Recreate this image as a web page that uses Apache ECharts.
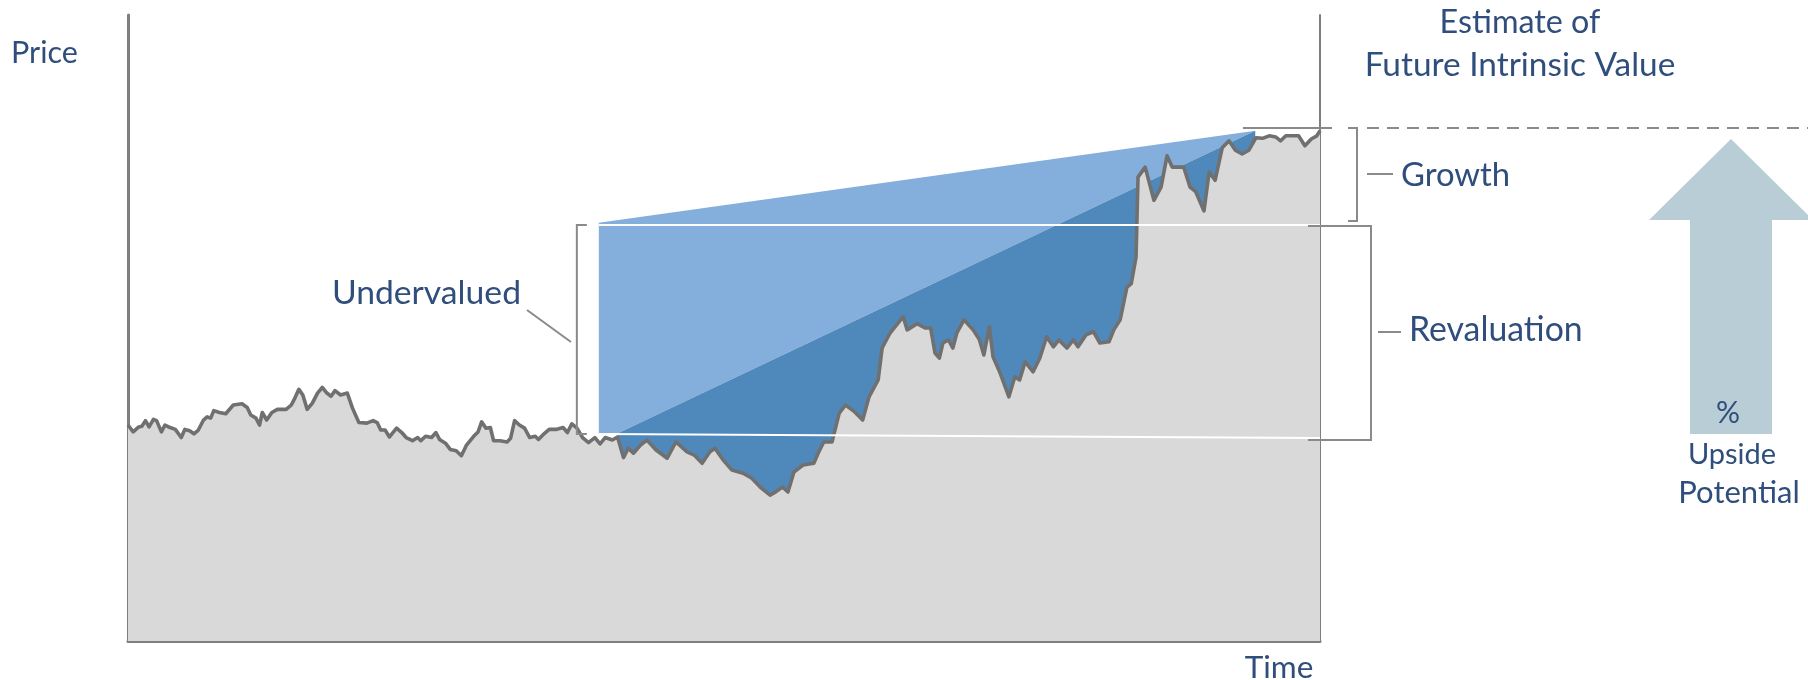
<!DOCTYPE html>
<html><head><meta charset="utf-8">
<script src="https://cdn.jsdelivr.net/npm/echarts@6/dist/echarts.min.js"></script>
<style>html,body{margin:0;padding:0;background:#fff}#c{width:1808px;height:680px}</style>
</head><body><div id="c"></div>
<script>
// Time index (0..300) and price (0..100 scale)
const priceTime = [0,1.3,2.7,3.5,4.4,5.3,6.4,7.2,8.4,9.3,10.6,11.9,13.4,14.3,15.5,16.6,17.7,19.0,19.9,20.8,21.6,23.0,24.6,26.5,28.7,30.0,30.9,32.2,33.1,33.8,34.9,36.2,37.6,39.8,41.1,42.0,43.0,44.0,45.1,46.4,47.7,48.9,49.9,51.1,52.1,53.5,55.2,56.5,58.1,60.1,61.7,62.7,63.6,64.7,65.8,67.6,68.9,70.0,71.6,72.9,73.7,74.9,76.4,77.5,78.4,79.9,81.1,82.6,83.9,85.2,87.0,88.1,89.0,90.1,91.2,92.0,93.6,95.4,96.3,97.3,98.5,99.8,101.1,102.5,103.3,104.7,106.0,107.7,109.5,110.6,111.7,113.0,114.4,115.9,117.5,118.8,120.1,121.9,123.2,124.7,125.9,127.2,129.0,
130.6,132.9,135.7,137.9,140.7,142.5,144.5,146.4,147.7,149.8,152.0,154.8,157.0,159.1,161.6,163.2,164.7,166.1,167.6,169.9,172.6,173.7,175.1,177.2,179.0,180.6,182.9,184.9,186.5,188.8,189.8,191.8,195.1,196.1,198.6,200.6,202.0,203.1,204.2,205.1,206.5,207.6,208.6,210.4,212.7,214.3,215.4,216.8,217.7,219.5,221.7,223.2,224.4,225.8,227.8,229.5,231.2,232.9,234.3,236.3,237.9,239.1,241.1,243.0,244.6,246.9,248.1,249.7,251.4,252.5,253.7,254.2,256.0,258.2,260.0,261.5,262.8,265.7,267.3,268.7,270.8,272.1,273.6,275.4,277.1,278.7,280.4,282.1,283.9,285.5,287.2,288.9,290.1,291.4,294.6,296.2,297.8,299.2,300];
const priceValue = [34.5,33.4,34.2,34.3,35.2,34.2,35.4,35.2,33.4,34.5,34.1,33.8,32.5,33.8,33.6,33.1,33.7,35.3,35.8,35.6,36.8,36.5,36.3,37.7,37.9,37.3,36.1,35.6,34.5,36.5,35.3,36.5,37.0,37.0,37.7,38.8,40.2,39.3,37.0,38.0,39.6,40.5,39.7,39.1,40.0,39.3,39.6,37.2,34.9,34.8,35.2,34.9,33.7,33.7,32.6,34.0,33.3,32.5,32.0,32.5,32.0,32.7,32.5,33.3,32.2,31.6,30.6,30.4,29.6,31.3,32.7,33.4,35.0,34.0,34.1,32.0,32.0,31.8,32.4,35.2,34.5,34.0,32.5,32.7,32.2,33.1,33.8,33.8,34.1,33.3,34.7,34.0,32.5,31.7,32.5,31.5,32.5,32.1,32.6,29.3,30.8,30.0,31.3,
32.1,30.5,29.2,31.8,30.2,29.7,28.4,30.2,30.8,28.9,27.3,26.8,26.0,24.6,23.3,23.9,24.6,23.8,27.0,28.1,28.4,30.0,31.8,31.8,36.4,37.7,36.6,35.3,39.0,41.7,46.8,49.2,51.8,49.7,50.7,50.0,50.0,46.0,45.2,47.6,48.1,46.8,49.2,51.3,49.7,48.1,45.7,50.2,45.4,42.8,39.0,42.2,41.7,44.6,43.0,45.2,48.6,47.0,48.1,46.8,48.1,47.0,48.9,49.4,47.6,47.8,49.7,51.3,56.5,57.1,61.3,74.1,75.7,70.4,72.5,77.5,75.7,75.7,72.5,71.8,68.7,74.9,73.6,78.8,79.9,78.4,77.8,78.4,80.4,80.3,80.7,80.5,79.9,80.7,80.7,79.1,80.2,80.7,81.5];
// Intrinsic value lines
const wedgeTop = [[118.5, 66.8], [283.7, 81.5]];
const diagonal = [[123.3, 33.2], [283.7, 81.5]];
const fairHigh = [[118.5, 66.45], [300, 66.45]];
const fairLow = [[118.5, 33.07], [300, 32.43]];
const estimateValue = 81.95;
const estimateStart = 280.6;
const labels = {
  price: 'Price', time: 'Time', est1: 'Estimate of', est2: 'Future Intrinsic Value',
  growth: 'Growth', reval: 'Revaluation', under: 'Undervalued',
  pct: '%', up: 'Upside', pot: 'Potential'
};

const chart = echarts.init(document.getElementById('c'), null, {renderer: 'canvas'});
const priceData = priceTime.map((t, i) => [t, priceValue[i]]);
const AX = '#7f7f7f';
chart.setOption({
  animation: false,
  grid: {left: 128, right: 488, top: 15, bottom: 39},
  xAxis: {type: 'value', min: 0, max: 300, axisLine: {show: true, onZero: false, lineStyle: {color: AX, width: 3}},
    axisTick: {show: false}, axisLabel: {show: false}, splitLine: {show: false}},
  yAxis: [
    {type: 'value', min: 0, max: 100, position: 'left', axisLine: {show: true, lineStyle: {color: AX, width: 3}},
      axisTick: {show: false}, axisLabel: {show: false}, splitLine: {show: false}},
    {type: 'value', min: 0, max: 100, position: 'right', axisLine: {show: true, lineStyle: {color: AX, width: 2}},
      axisTick: {show: false}, axisLabel: {show: false}, splitLine: {show: false}}
  ],
  series: [
    {type: 'custom', z: 1, data: [[0, 0]], clip: false, silent: true,
      renderItem: function (params, api) {
        const pts = [wedgeTop[0], wedgeTop[1], diagonal[0], fairLow[0]].map(p => api.coord(p));
        return {type: 'polygon', shape: {points: pts}, style: {fill: '#84aedb'}};
      }},
    {type: 'line', z: 2, data: diagonal, symbol: 'none', lineStyle: {width: 0},
      areaStyle: {color: '#4f89bb', opacity: 1, origin: 'start'}},
    {type: 'line', z: 3, data: priceData, symbol: 'none', lineStyle: {color: '#707070', width: 3.6, join: 'round'},
      areaStyle: {color: '#d9d9d9', opacity: 1, origin: 'start'}},
    {type: 'line', z: 4, data: fairHigh, symbol: 'none', lineStyle: {color: '#ffffff', width: 2}},
    {type: 'line', z: 4, data: fairLow, symbol: 'none', lineStyle: {color: '#ffffff', width: 2}}
  ]
});

const px = p => chart.convertToPixel({xAxisIndex: 0, yAxisIndex: 0}, p);
const TC = '#2f4e7c';
const GL = '#8a8a8a';
const FONT = 'Lato';
function txt(t, x, y, align, size) {
  return {type: 'text', z: 100, style: {text: t, x: x, y: y, fill: TC, fontSize: size || 30, fontFamily: FONT,
    align: align || 'left', textAlign: align || 'left', verticalAlign: 'middle', textVerticalAlign: 'middle'}};
}
function poly(points, width, dash) {
  return {type: 'polyline', z: 90, shape: {points: points},
    style: {stroke: GL, lineWidth: width || 2, fill: null, lineDash: dash || null}};
}
const pHighL = px(fairHigh[0]);
const pLowL = px(fairLow[0]);
const pHighR = px(fairHigh[1]);
const pLowR = px(fairLow[1]);
const estY = px([estimateStart, estimateValue])[1];
const estX = px([estimateStart, estimateValue])[0];
const rightX = px([300, 0])[0];
const ax = 1731;
chart.setOption({
  graphic: [
    txt(labels.price, 11, 53, 'left', 30.5),
    txt(labels.time, 1279, 668, 'center', 31.5),
    txt(labels.est1, 1520, 23, 'center', 32.3),
    txt(labels.est2, 1520, 65, 'center', 33.4),
    txt(labels.growth, 1401, 175, 'left', 32.8),
    txt(labels.reval, 1409, 330, 'left', 33.8),
    txt(labels.under, 521, 293, 'right', 33.7),
    // undervalued bracket + leader
    poly([[pHighL[0] - 12, pHighL[1]], [pHighL[0] - 22, pHighL[1]], [pLowL[0] - 22, pLowL[1]], [pLowL[0] - 12, pLowL[1]]]),
    poly([[527, 310], [571, 342]]),
    // estimate line
    poly([[estX, estY], [rightX + 12, estY]]),
    poly([[rightX + 47, estY], [1808, estY]], 2, [12, 8]),
    // growth bracket
    poly([[rightX + 28, estY], [rightX + 37, estY], [rightX + 37, pHighR[1] - 4], [rightX + 28, pHighR[1] - 4]]),
    poly([[rightX + 47, 174], [rightX + 73, 174]]),
    // revaluation bracket
    poly([[rightX - 12, pHighR[1] + 1], [rightX + 51, pHighR[1] + 1], [rightX + 51, pLowR[1] + 2], [rightX - 12, pLowR[1] + 2]]),
    poly([[rightX + 58, 332], [rightX + 81, 332]]),
    // arrow
    {type: 'polygon', z: 80, shape: {points: [[ax, 139], [ax + 82, 220], [ax + 41, 220], [ax + 41, 434], [ax - 41, 434], [ax - 41, 220], [ax - 82, 220]]},
      style: {fill: '#b9cdd6'}},
    txt(labels.pct, ax - 3, 413, 'center', 30),
    txt(labels.up, ax + 1, 455, 'center', 29),
    txt(labels.pot, ax + 8, 493, 'center', 31)
  ]
});
</script>
</body></html>
